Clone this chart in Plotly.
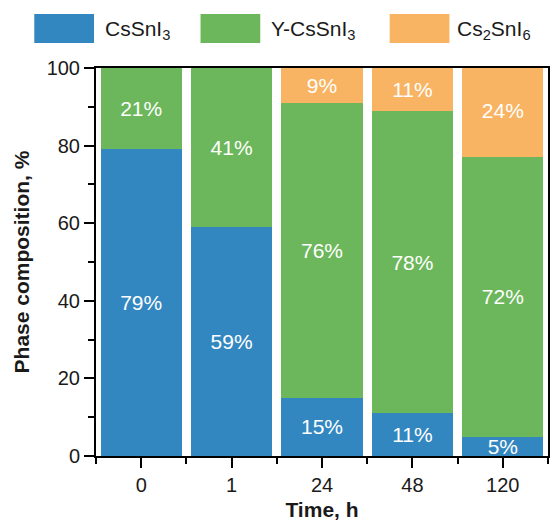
import plotly.graph_objects as go

times = ["0", "1", "24", "48", "120"]
cssni3 = [79, 59, 15, 11, 5]
y_cssni3 = [21, 41, 76, 78, 72]
cs2sni6 = [0, 0, 9, 11, 24]

series_names = ["CsSnI<sub>3</sub>", "Y-CsSnI<sub>3</sub>", "Cs<sub>2</sub>SnI<sub>6</sub>"]
series_vals = [cssni3, y_cssni3, cs2sni6]
colors = ["#3387c1", "#6cb75b", "#f8b462"]

FONT = "Liberation Sans, Arial, Helvetica, sans-serif"
W, H = 553, 523
L, R, T, B = 96, 3, 68, 67
PW, PH = W - L - R, H - T - B

def px_x(px):
    return (px - L) / PW

def px_y(py):
    return (H - B - py) / PH

xs = list(range(len(times)))

fig = go.Figure()
for name, vals, col in zip(series_names, series_vals, colors):
    bx = [x for x, v in zip(xs, vals) if v > 0]
    by = [v for v in vals if v > 0]
    fig.add_trace(go.Bar(
        x=bx, y=by, name=name, marker=dict(color=col, line=dict(width=0)),
        text=[f"{v}%" for v in by],
        textposition="inside", insidetextanchor="middle",
        textfont=dict(color="white", size=21, family=FONT),
        constraintext="none", showlegend=False, cliponaxis=True,
    ))

# legend drawn as shapes + annotations (large swatches)
leg_rects = [(34, 94), (201, 261), (391, 451)]
leg_text_x = [103, 270, 457]
for (x0, x1), tx, name, col in zip(leg_rects, leg_text_x, series_names, colors):
    fig.add_shape(type="rect", xref="paper", yref="paper",
                  x0=px_x(x0), x1=px_x(x1), y0=px_y(43), y1=px_y(14),
                  fillcolor=col, line=dict(width=0))
    fig.add_annotation(xref="paper", yref="paper", x=px_x(tx), y=px_y(30),
                       text=name, showarrow=False, xanchor="left", yanchor="middle",
                       font=dict(size=21, color="#1a1a1a", family=FONT))

fig.update_layout(
    width=W, height=H, margin=dict(l=L, r=R, t=T, b=B),
    barmode="stack", bargap=0.1,
    plot_bgcolor="white", paper_bgcolor="white",
    font=dict(family=FONT, size=20, color="#1a1a1a"),
    uniformtext=dict(minsize=21, mode="show"),
)
fig.update_xaxes(
    range=[-0.5, len(times) - 0.5], tickvals=xs, ticktext=times,
    showgrid=False, zeroline=False,
    showline=True, linecolor="black", linewidth=2, mirror=True,
    ticks="outside", ticklen=10, tickwidth=2, tickcolor="black",
    tickfont=dict(size=20, color="#1a1a1a"),
    minor=dict(ticks="outside", ticklen=6, tickwidth=2, tickcolor="black",
               tick0=-0.5, dtick=1, showgrid=False),
    title=dict(text="<b>Time, h</b>", font=dict(size=21, color="#1a1a1a"), standoff=7),
)
fig.update_yaxes(
    range=[0, 100], dtick=20, tick0=0,
    showgrid=False, zeroline=False,
    showline=True, linecolor="black", linewidth=2, mirror=True,
    ticks="outside", ticklen=10, tickwidth=2, tickcolor="black",
    tickfont=dict(size=20, color="#1a1a1a"),
    minor=dict(ticks="outside", ticklen=6, tickwidth=2, tickcolor="black",
               dtick=10, showgrid=False),
    title=dict(text="<b>Phase composition, %</b>", font=dict(size=21, color="#1a1a1a"), standoff=11),
)

fig.write_html("out.html")
